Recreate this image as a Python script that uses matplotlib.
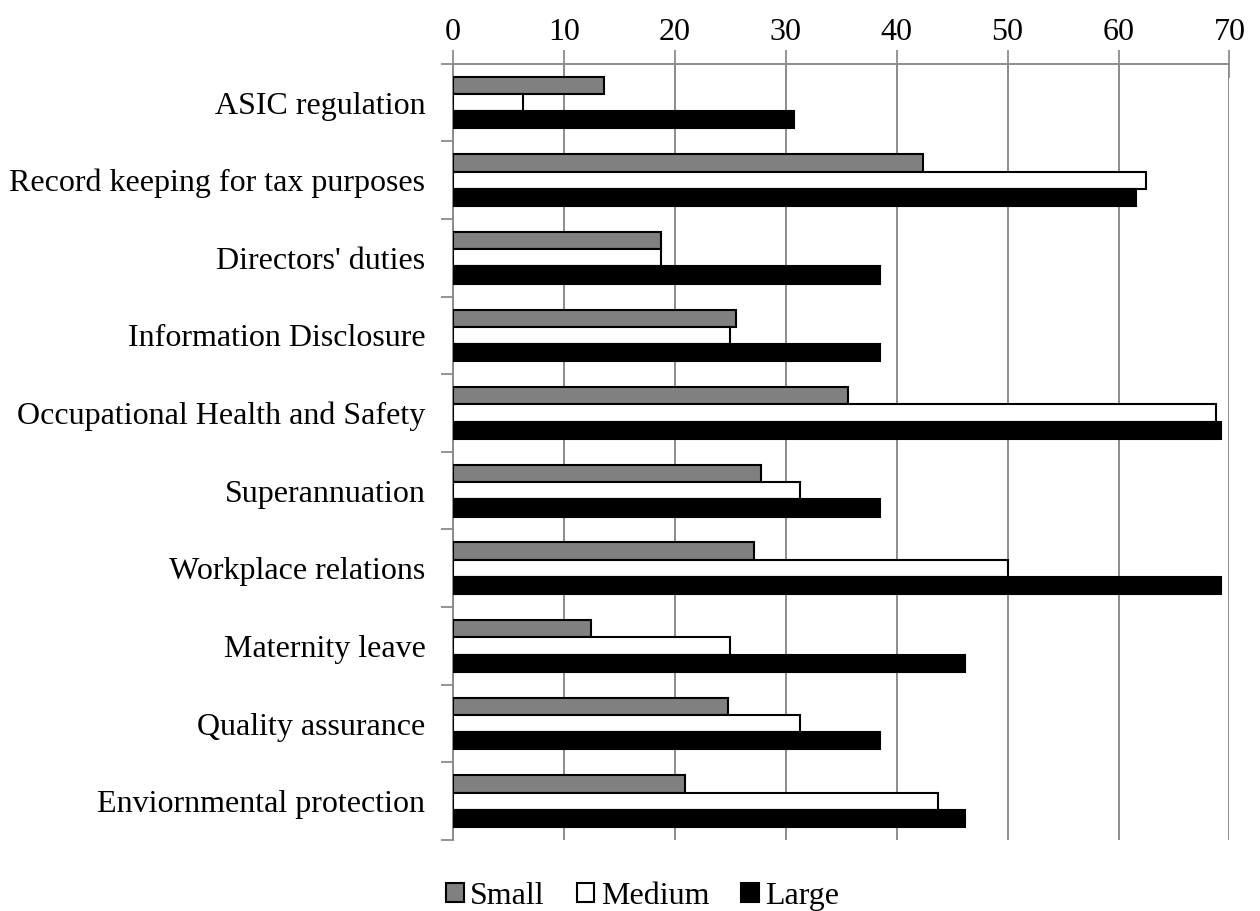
import numpy as np
import matplotlib.pyplot as plt

categories = [
    "ASIC regulation",
    "Record keeping for tax purposes",
    "Directors' duties",
    "Information Disclosure",
    "Occupational Health and Safety",
    "Superannuation",
    "Workplace relations",
    "Maternity leave",
    "Quality assurance",
    "Enviornmental protection",
]
small = [13.6, 42.4, 18.7, 25.5, 35.6, 27.8, 27.1, 12.4, 24.8, 20.9]
medium = [6.25, 62.5, 18.75, 25.0, 68.75, 31.25, 50.0, 25.0, 31.25, 43.75]
large = [30.77, 61.54, 38.46, 38.46, 69.23, 38.46, 69.23, 46.15, 38.46, 46.15]
series_names = ["Small", "Medium", "Large"]
xticks = [0, 10, 20, 30, 40, 50, 60, 70]

plt.rcParams["font.family"] = ["Liberation Serif", "DejaVu Serif"]
fs = 23
grid_col = "#8c8c8c"

fig = plt.figure(figsize=(12.6, 9.11), dpi=100)
ax = fig.add_axes([0.3597, 0.078, 0.616, 0.852])

y = np.arange(len(categories))
h = 0.222
ax.barh(y - h, small, height=h, color="#808080", edgecolor="black", linewidth=1.5,
        label=series_names[0], zorder=3)
ax.barh(y, medium, height=h, color="white", edgecolor="black", linewidth=1.5,
        label=series_names[1], zorder=3)
ax.barh(y + h, large, height=h, color="black", edgecolor="black", linewidth=1.5,
        label=series_names[2], zorder=3)

ax.set_xlim(0, 70)
ax.set_ylim(len(categories) - 0.5, -0.5)

# value axis along the top
ax.xaxis.tick_top()
ax.set_xticks(xticks)
ax.set_xticklabels([str(t) for t in xticks], fontsize=fs)
ax.tick_params(axis="x", direction="inout", length=20, width=1.3, color=grid_col, pad=2)
ax.grid(axis="x", color=grid_col, linewidth=1.4, zorder=0)

# category axis: labels at centres, tick marks between groups
ax.set_yticks(y)
ax.set_yticklabels(categories, fontsize=fs)
ax.tick_params(axis="y", which="major", length=0, pad=20)
ax.set_yticks(np.arange(len(categories) + 1) - 0.5, minor=True)
ax.tick_params(axis="y", which="minor", direction="out", length=9, width=1.3, color=grid_col)

for side in ["right", "bottom"]:
    ax.spines[side].set_visible(False)
for side in ["left", "top"]:
    ax.spines[side].set_color(grid_col)
    ax.spines[side].set_linewidth(1.4)

fig.legend(loc="center", bbox_to_anchor=(0.51, 0.016), ncol=3, frameon=False,
           fontsize=fs, handlelength=0.55, handleheight=0.55, handletextpad=0.2,
           columnspacing=1.0)

fig.savefig("out.png", dpi=100)
plt.close(fig)
